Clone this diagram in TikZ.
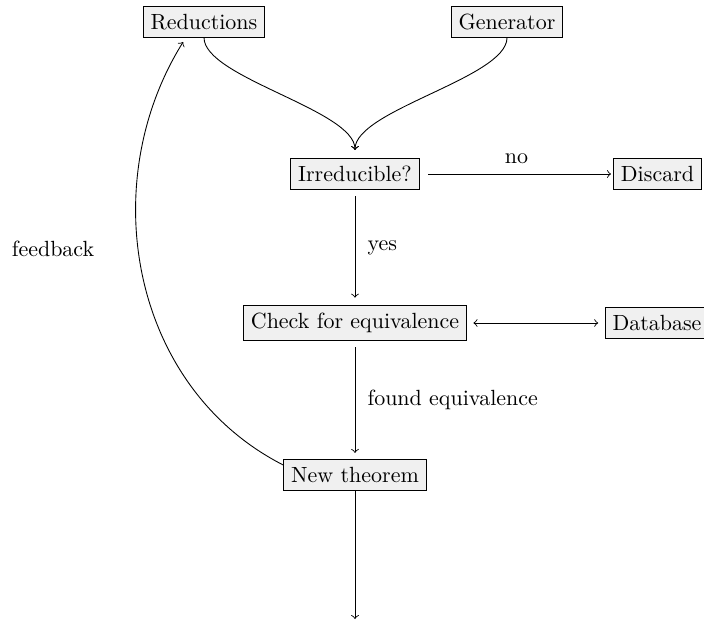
\documentclass[tikz,border=0pt]{standalone}
\usetikzlibrary{arrows}
\begin{document}
\begin{tikzpicture}[x=0.455pt,y=0.455pt,
  box/.style={draw, fill=black!6, inner sep=3.33pt},
  lbl/.style={inner sep=0pt},
  conn/.style={->}]
\useasboundingbox (0,0) rectangle (704,621);
\node[box] (red) at (204,599) {Reductions};
\node[box] (gen) at (507,599) {Generator};
\node[box] (irr) at (355,447) {Irreducible?};
\node[box] (disc) at (657.5,447) {Discard};
\node[box] (check) at (355,298) {Check for equivalence};
\node[box] (db) at (657,298) {Database};
\node[box] (newth) at (355,146) {New theorem};
\coordinate (merge) at (355,471);
\coordinate (out) at (355,2);
\draw[conn] (red.south) .. controls +(270:40) and +(90:40) .. (merge);
\draw[conn] (gen.south) .. controls +(270:40) and +(90:40) .. (merge);
\draw[conn, shorten <=4pt, shorten >=1pt] (irr) -- node[lbl, above=4.5pt] {no} (disc);
\draw[conn, shorten <=3pt, shorten >=3.5pt] (irr) -- node[lbl, right=5.5pt] {yes} (check);
\draw[<->, shorten <=3pt, shorten >=3pt] (check) -- (db);
\draw[conn, shorten <=3pt, shorten >=3pt] (check) -- node[lbl, right=5.5pt] {found equivalence} (newth);
\draw[conn] (newth) -- (out);
\draw[conn] ([yshift=4.5pt]newth.west) .. controls +(153:172) and +(238:166) .. ([xshift=-9.5pt,yshift=-2pt]red.south);
\node[lbl] (fb) at (53,372) {feedback};
\end{tikzpicture}
\end{document}
